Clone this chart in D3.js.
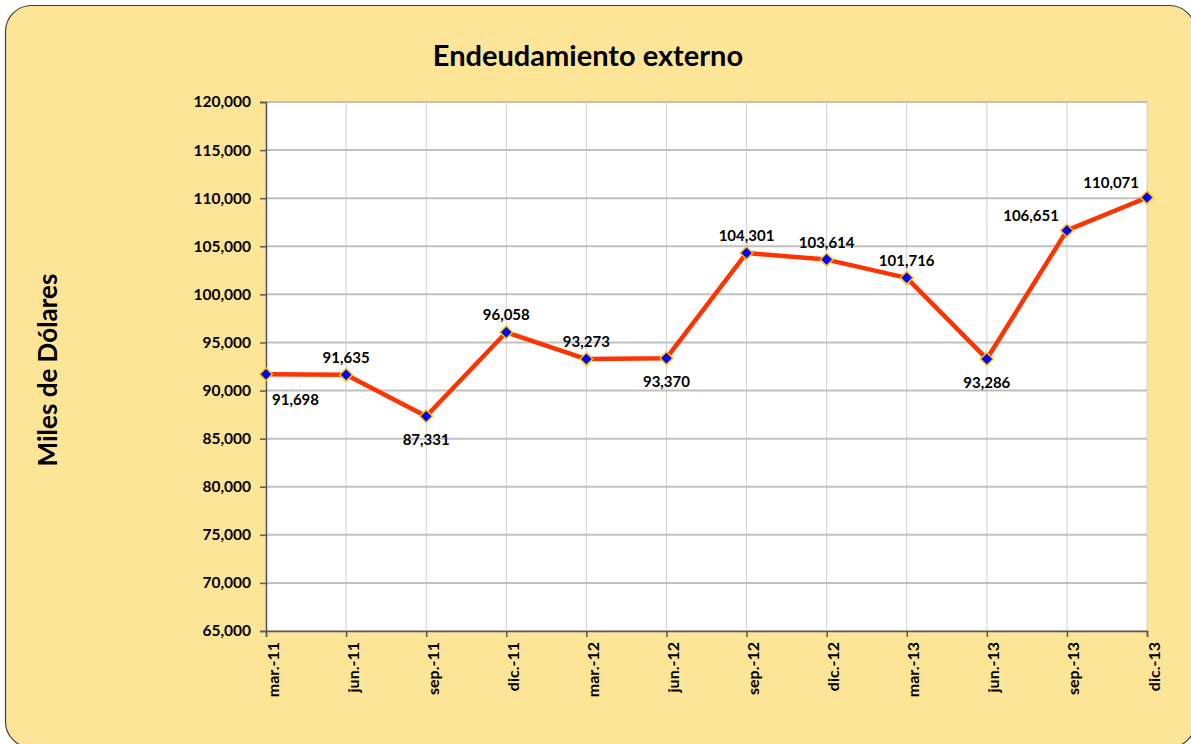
<!DOCTYPE html>
<html>
<head>
<meta charset="utf-8">
<script src="https://cdn.jsdelivr.net/npm/d3@7"></script>
<style>
  html, body { margin: 0; padding: 0; background: #ffffff; }
  svg { display: block; }
  text { font-family: "Lato", "Open Sans", sans-serif; font-weight: bold; fill: #000; }
</style>
</head>
<body>
<svg id="chart" width="1191" height="744"></svg>
<script>
// Quarterly periods
const periods = ["mar.-11", "jun.-11", "sep.-11", "dic.-11", "mar.-12", "jun.-12",
                 "sep.-12", "dic.-12", "mar.-13", "jun.-13", "sep.-13", "dic.-13"];
// External debt, thousands of dollars
const debt = [91698, 91635, 87331, 96058, 93273, 93370,
              104301, 103614, 101716, 93286, 106651, 110071];
// Where each value label sits relative to its point
const labelSide = ["belowRight", "above", "below", "above", "above", "below",
                   "above", "above", "above", "below", "aboveLeft", "aboveLeft"];
const yTicks = [65000, 70000, 75000, 80000, 85000, 90000, 95000,
                100000, 105000, 110000, 115000, 120000];

const svg = d3.select("#chart");
const plot = { left: 266, right: 1147, top: 102, bottom: 631 };

// Rounded frame
svg.append("rect")
  .attr("x", 5.5).attr("y", 5.5)
  .attr("width", 1190).attr("height", 742)
  .attr("rx", 26).attr("ry", 26)
  .attr("fill", "#fde598")
  .attr("stroke", "#404040").attr("stroke-width", 1.2);

// Plot background
svg.append("rect")
  .attr("x", plot.left).attr("y", plot.top)
  .attr("width", plot.right - plot.left).attr("height", plot.bottom - plot.top)
  .attr("fill", "#ffffff");

const x = d3.scalePoint().domain(periods).range([plot.left, plot.right]).padding(0);
const y = d3.scaleLinear().domain([65000, 120000]).range([plot.bottom, plot.top]);

// Vertical gridlines
svg.append("g").selectAll("line").data(periods).join("line")
  .attr("x1", d => x(d)).attr("x2", d => x(d))
  .attr("y1", plot.top).attr("y2", plot.bottom)
  .attr("stroke", "#d0d0d0").attr("stroke-width", 1);

// Horizontal gridlines
svg.append("g").selectAll("line").data(yTicks).join("line")
  .attr("x1", plot.left).attr("x2", plot.right)
  .attr("y1", d => y(d)).attr("y2", d => y(d))
  .attr("stroke", "#c0c0c0").attr("stroke-width", 2);

// Y axis
const fmt = d3.format(",");
const yAxis = svg.append("g")
  .attr("transform", `translate(${plot.left},0)`)
  .call(d3.axisLeft(y).tickValues(yTicks).tickFormat(fmt).tickSize(6).tickPadding(9));
yAxis.select(".domain").attr("stroke", "#595959").attr("stroke-width", 1.5);
yAxis.selectAll(".tick line").attr("stroke", "#595959").attr("stroke-width", 1.5);
yAxis.selectAll("text").attr("font-size", 15.5).attr("font-family", "Lato, sans-serif")
  .attr("font-weight", "bold").attr("fill", "#000");

// X axis
const xAxis = svg.append("g")
  .attr("transform", `translate(0,${plot.bottom})`)
  .call(d3.axisBottom(x).tickSize(6).tickPadding(0));
xAxis.select(".domain").attr("stroke", "#595959").attr("stroke-width", 1.5);
xAxis.selectAll(".tick line").attr("stroke", "#595959").attr("stroke-width", 1.5);
xAxis.selectAll("text")
  .attr("font-size", 16).attr("font-family", "Lato, sans-serif")
  .attr("font-weight", "bold").attr("fill", "#000")
  .attr("text-anchor", "end")
  .attr("dy", null)
  .attr("transform", "translate(6,11) rotate(-90)");

// Line
const line = d3.line().x((d, i) => x(periods[i])).y(d => y(d));
svg.append("path").datum(debt)
  .attr("d", line)
  .attr("fill", "none")
  .attr("stroke", "#ff3300")
  .attr("stroke-width", 4.5)
  .attr("stroke-linejoin", "round");

// Diamond markers
svg.append("g").selectAll("path").data(debt).join("path")
  .attr("d", d3.symbol().type(d3.symbolSquare).size(80))
  .attr("transform", (d, i) => `translate(${x(periods[i])},${y(d)}) rotate(45)`)
  .attr("fill", "#0000ff")
  .attr("stroke", "#ffc000")
  .attr("stroke-width", 1.5);

// Value labels
const offsets = {
  above:      { dx: 0,   dy: -12, anchor: "middle" },
  below:      { dx: 0,   dy: 29,  anchor: "middle" },
  belowRight: { dx: 6,   dy: 31,  anchor: "start" },
  aboveLeft:  { dx: -8,  dy: -9,  anchor: "end" }
};
svg.append("g").selectAll("text").data(debt).join("text")
  .attr("x", (d, i) => x(periods[i]) + offsets[labelSide[i]].dx)
  .attr("y", (d, i) => y(d) + offsets[labelSide[i]].dy)
  .attr("text-anchor", (d, i) => offsets[labelSide[i]].anchor)
  .attr("font-size", 15)
  .text(d => fmt(d));

// Title
svg.append("text")
  .attr("x", 588).attr("y", 66)
  .attr("text-anchor", "middle")
  .attr("font-size", 29)
  .text("Endeudamiento externo");

// Y axis title
svg.append("text")
  .attr("transform", "translate(57,370) rotate(-90)")
  .attr("text-anchor", "middle")
  .attr("font-size", 26)
  .text("Miles de Dólares");
</script>
</body>
</html>
